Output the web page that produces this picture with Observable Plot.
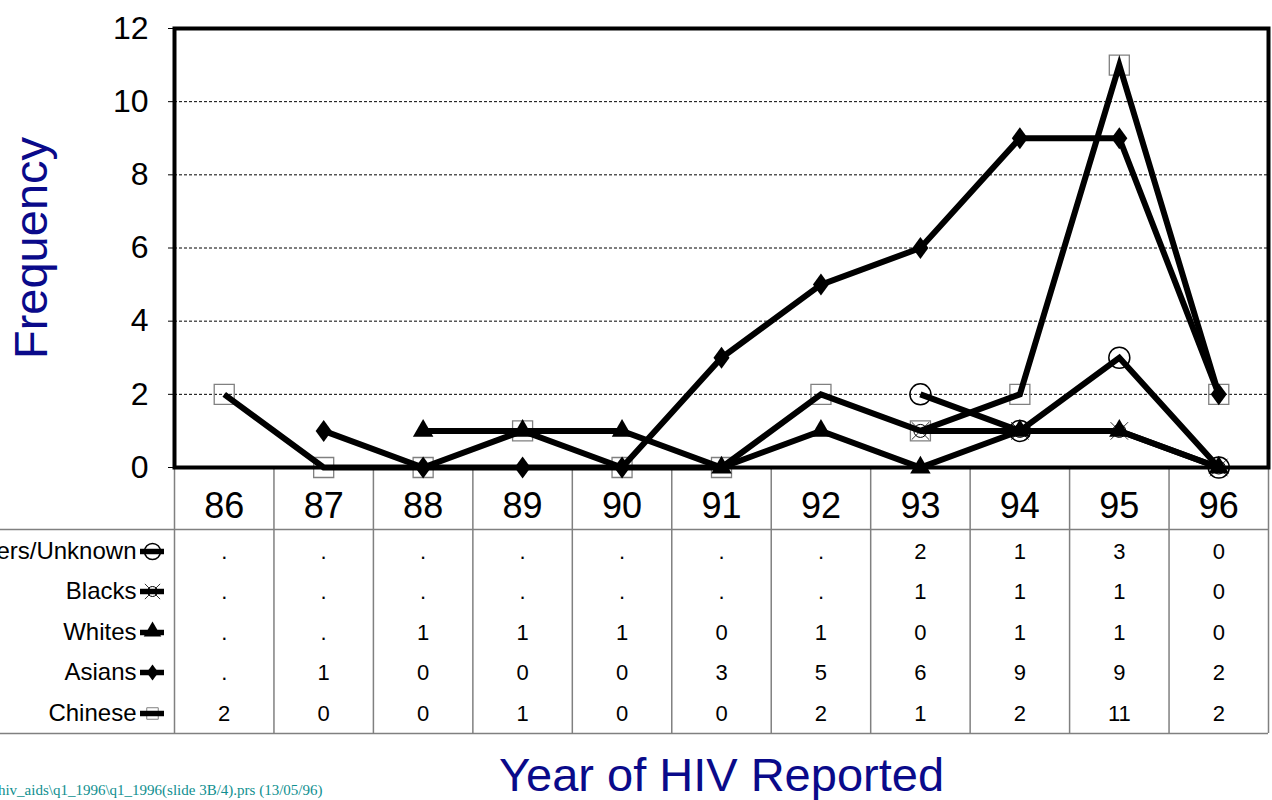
<!DOCTYPE html>
<html><head><meta charset="utf-8">
<script src="https://cdn.jsdelivr.net/npm/d3@7"></script>
<script src="https://cdn.jsdelivr.net/npm/@observablehq/plot@0.6"></script>
<style>body{margin:0;background:#fff;} #chart svg{display:block;}</style>
</head><body><div id="chart"></div>
<script>
// ---- data ----
const years = [86, 87, 88, 89, 90, 91, 92, 93, 94, 95, 96];
const seriesNames = ["Others/Unknown", "Blacks", "Whites", "Asians", "Chinese"];
const others  = [null, null, null, null, null, null, null, 2, 1, 3, 0];
const blacks  = [null, null, null, null, null, null, null, 1, 1, 1, 0];
const whites  = [null, null, 1, 1, 1, 0, 1, 0, 1, 1, 0];
const asians  = [null, 1, 0, 0, 0, 3, 5, 6, 9, 9, 2];
const chinese = [2, 0, 0, 1, 0, 0, 2, 1, 2, 11, 2];
const yTicks = [0, 2, 4, 6, 8, 10, 12];
const gridTicks = [2, 4, 6, 8, 10];
const yLabel = "Frequency";
const xLabel = "Year of HIV Reported";
const footer = "hiv_aids\\q1_1996\\q1_1996(slide 3B/4).prs (13/05/96)";

// ---- layout ----
const W = 1272, H = 800;
const mTop = 28, mLeft = 174, mRight = 4, frameBottom = 467;
const mBottom = H - frameBottom;
const tableBottom = 733;
const rowDy = {"Others/Unknown": 84, "Blacks": 124, "Whites": 165, "Asians": 205, "Chinese": 246};
const navy = "#0a0a8a";
const font = "'Liberation Sans', Arial, sans-serif";

// wider diamond like the original's marker
const wideDiamond = {
  draw(ctx, size) {
    const h = Math.sqrt(size / 1.46);
    const w = h * 0.73;
    ctx.moveTo(0, -h); ctx.lineTo(w, 0); ctx.lineTo(0, h); ctx.lineTo(-w, 0); ctx.closePath();
  }
};

const values = {"Others/Unknown": others, "Blacks": blacks, "Whites": whites, "Asians": asians, "Chinese": chinese};
const rows = seriesNames.flatMap(s => years.map((yr, i) => ({series: s, year: yr, value: values[s][i]})));
const defined = rows.filter(d => d.value != null);
const bySeries = s => defined.filter(d => d.series === s);
const bounds = years.map(y => y - 0.5).concat([years[years.length - 1] + 0.5]);

const marks = [];
// grid
marks.push(Plot.ruleY(gridTicks, {stroke: "#000", strokeWidth: 1, strokeDasharray: "3,2"}));
// table grid
marks.push(Plot.ruleX(bounds, {stroke: "#808080", strokeWidth: 1.5,
  insetTop: frameBottom - mTop, insetBottom: -(tableBottom - frameBottom)}));
marks.push(Plot.ruleY([0], {dy: 62, insetLeft: -mLeft, stroke: "#808080", strokeWidth: 1.5}));
marks.push(Plot.ruleY([0], {dy: tableBottom - frameBottom, insetLeft: -mLeft, stroke: "#808080", strokeWidth: 1.5}));
// category labels
marks.push(Plot.text(years, {x: d => d, text: d => String(d), frameAnchor: "bottom", lineAnchor: "middle", dy: 39, fontSize: 36, fill: "#000"}));
// legend square for Chinese goes behind its legend line
marks.push(Plot.dot(["Chinese"], {frameAnchor: "bottom-left", dx: -22, dy: rowDy["Chinese"], symbol: "square", r: 6.5, stroke: "#808080", strokeWidth: 1, fill: "none"}));
// table rows
for (const s of seriesNames) {
  marks.push(Plot.text(rows.filter(d => d.series === s), {x: "year", text: d => d.value == null ? "." : String(d.value),
    frameAnchor: "bottom", lineAnchor: "middle", dy: rowDy[s], fontSize: 22, fill: "#000"}));
  marks.push(Plot.text([s], {text: d => d, frameAnchor: "bottom-left", lineAnchor: "middle", dx: -38, dy: rowDy[s], textAnchor: "end", fontSize: 24, fill: "#000"}));
  marks.push(Plot.ruleY([0], {dy: rowDy[s], insetLeft: -34, insetRight: (W - mRight - mLeft) + 10, stroke: "#000", strokeWidth: 5.5}));
}
// legend symbols
marks.push(Plot.dot(["Asians"], {frameAnchor: "bottom-left", dx: -22, dy: rowDy["Asians"], symbol: wideDiamond, r: 5.5, fill: "#000"}));
marks.push(Plot.dot(["Whites"], {frameAnchor: "bottom-left", dx: -22, dy: rowDy["Whites"] - 1, symbol: "triangle", r: 6.5, fill: "#000"}));
marks.push(Plot.dot(["Blacks"], {frameAnchor: "bottom-left", dx: -22, dy: rowDy["Blacks"], symbol: "circle", r: 5, stroke: "#000", strokeWidth: 1, fill: "none"}));
marks.push(Plot.dot(["Blacks"], {frameAnchor: "bottom-left", dx: -22, dy: rowDy["Blacks"], symbol: "times", r: 7, stroke: "#000", strokeWidth: 0.8}));
marks.push(Plot.dot(["Others/Unknown"], {frameAnchor: "bottom-left", dx: -22, dy: rowDy["Others/Unknown"], symbol: "circle", r: 8, stroke: "#000", strokeWidth: 1.5, fill: "none"}));

// chart: Chinese squares (behind lines)
marks.push(Plot.dot(bySeries("Chinese"), {x: "year", y: "value", symbol: "square", r: 11.3, stroke: "#808080", strokeWidth: 1.3, fill: "none"}));
// lines
marks.push(Plot.line(defined, {x: "year", y: "value", z: "series", stroke: "#000", strokeWidth: 6,
  strokeLinejoin: "miter", strokeMiterlimit: 6, strokeLinecap: "butt"}));
// markers
marks.push(Plot.dot(bySeries("Asians"), {x: "year", y: "value", symbol: wideDiamond, r: 7.5, fill: "#000"}));
marks.push(Plot.dot(bySeries("Whites"), {x: "year", y: "value", symbol: "triangle", r: 7.6, fill: "#000"}));
marks.push(Plot.dot(bySeries("Blacks"), {x: "year", y: "value", symbol: "circle", r: 6.5, stroke: "#000", strokeWidth: 1, fill: "none"}));
marks.push(Plot.dot(bySeries("Blacks"), {x: "year", y: "value", symbol: "times", r: 8, stroke: "#000", strokeWidth: 0.8}));
marks.push(Plot.dot(bySeries("Others/Unknown"), {x: "year", y: "value", symbol: "circle", r: 10.5, stroke: "#000", strokeWidth: 1.5, fill: "none"}));

// axes & frame
marks.push(Plot.axisY(yTicks, {tickSize: 6, tickPadding: 20, fontSize: 32, label: null, stroke: "#000", fill: "#000"}));
marks.push(Plot.frame({stroke: "#000", strokeWidth: 4}));

// titles
marks.push(Plot.text([yLabel], {text: d => d, frameAnchor: "left", textAnchor: "middle", lineAnchor: "middle", dx: -143, rotate: -90, fontSize: 47, fill: navy}));
marks.push(Plot.text([xLabel], {text: d => d, frameAnchor: "bottom", textAnchor: "middle", lineAnchor: "middle", dy: 308, fontSize: 47, fill: navy}));
marks.push(Plot.text([footer], {text: d => d, frameAnchor: "bottom-left", lineAnchor: "middle", dx: 322 - mLeft, dy: 323, textAnchor: "end",
  fontSize: 15, fill: "#0f8f8f", fontFamily: "'Liberation Serif', 'Times New Roman', serif"}));

const chart = Plot.plot({
  width: W, height: H,
  marginTop: mTop, marginLeft: mLeft, marginRight: mRight, marginBottom: mBottom,
  style: {fontFamily: font, background: "#fff", color: "#000", overflow: "visible"},
  x: {domain: [years[0] - 0.5, years[years.length - 1] + 0.5], axis: null},
  y: {domain: [yTicks[0], yTicks[yTicks.length - 1]], axis: null},
  marks
});
document.getElementById("chart").appendChild(chart);
</script>
</body></html>
